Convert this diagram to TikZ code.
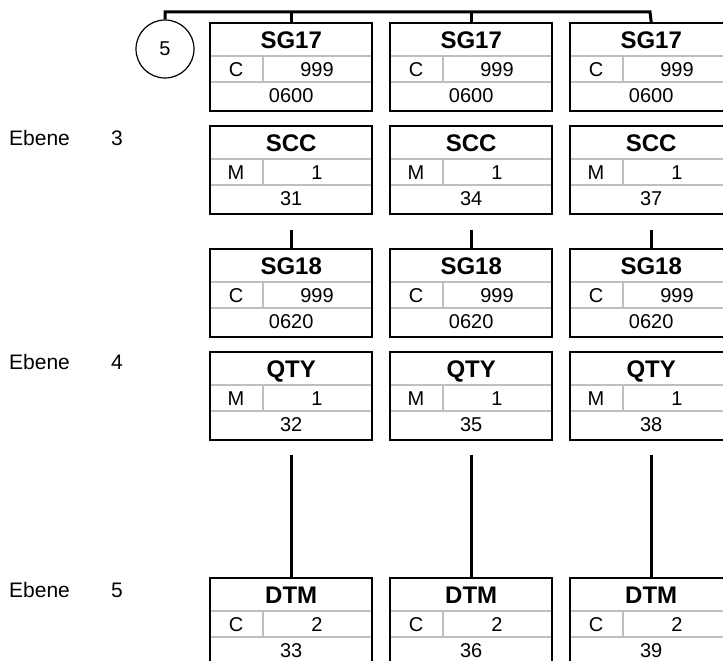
\documentclass[tikz,border=0pt]{standalone}
\usepackage{fontspec}
\setmainfont{Liberation Sans}
\begin{document}
\begin{tikzpicture}[x=1pt,y=-1pt,
  segframe/.style={draw=black,line width=2.4pt,minimum width=162pt,minimum height=88pt,inner sep=0pt,anchor=north west},
  gridline/.style={draw=black!25,line width=2pt},
  conn/.style={draw=black,line width=3pt},
  hdr/.style={font=\bfseries\fontsize{24}{26}\selectfont,text height=17.2pt,text depth=0pt,inner sep=0pt},
  txt/.style={font=\fontsize{20}{22}\selectfont,text height=14.3pt,text depth=0pt,inner sep=0pt},
  lbl/.style={font=\fontsize{21}{23}\selectfont,text height=15pt,text depth=0pt,inner sep=0pt},
  ring/.style={draw=black,line width=1.2pt,circle,minimum size=58pt,inner sep=0pt,font=\fontsize{20}{22}\selectfont}
]
\useasboundingbox (0,0) rectangle (723,661);
\newcommand\segbox[7]{%
  \coordinate (#1-nw) at (#2,#3);
  \draw[gridline] ([yshift=-34pt]#1-nw) -- ++(162pt,0);
  \draw[gridline] ([yshift=-60pt]#1-nw) -- ++(162pt,0);
  \draw[gridline] ([xshift=54pt,yshift=-34pt]#1-nw) -- ++(0,-26pt);
  \node[segframe] (#1) at (#1-nw) {};
  \node[hdr] (#1-t) at ([yshift=-17.5pt]#1.north) {#4};
  \node[txt] (#1-s) at ([xshift=27pt,yshift=-47pt]#1.north west) {#5};
  \node[txt] (#1-r) at ([xshift=108pt,yshift=-47pt]#1.north west) {#6};
  \node[txt] (#1-n) at ([yshift=-73pt]#1.north) {#7};
}
% level labels
\node[lbl,anchor=west] (e3) at (9,137.5) {Ebene};
\node[lbl] (e3n) at (117,137.5) {3};
\node[lbl,anchor=west] (e4) at (9,362) {Ebene};
\node[lbl] (e4n) at (117,362) {4};
\node[lbl,anchor=west] (e5) at (9,590) {Ebene};
\node[lbl] (e5n) at (117,590) {5};
% circle
\node[ring] (c5) at (165,49) {5};
% boxes
\segbox{sg17a}{209}{22}{SG17}{C}{999}{0600}
\segbox{sg17b}{389}{22}{SG17}{C}{999}{0600}
\segbox{sg17c}{569}{22}{SG17}{C}{999}{0600}
\segbox{scca}{209}{125}{SCC}{M}{1}{31}
\segbox{sccb}{389}{125}{SCC}{M}{1}{34}
\segbox{sccc}{569}{125}{SCC}{M}{1}{37}
\segbox{sg18a}{209}{248}{SG18}{C}{999}{0620}
\segbox{sg18b}{389}{248}{SG18}{C}{999}{0620}
\segbox{sg18c}{569}{248}{SG18}{C}{999}{0620}
\segbox{qtya}{209}{351}{QTY}{M}{1}{32}
\segbox{qtyb}{389}{351}{QTY}{M}{1}{35}
\segbox{qtyc}{569}{351}{QTY}{M}{1}{38}
\segbox{dtma}{209}{577}{DTM}{C}{2}{33}
\segbox{dtmb}{389}{577}{DTM}{C}{2}{36}
\segbox{dtmc}{569}{577}{DTM}{C}{2}{39}
% connectors
\coordinate (busL) at (165,12);
\coordinate (busR) at (650,12);
\draw[conn] (c5.north) -- (busL) -- (busR) -- (sg17c.north);
\draw[conn] (sg17a.north) -- (sg17a.north |- busL);
\draw[conn] (sg17b.north) -- (sg17b.north |- busL);
\foreach \c in {a,b,c}{
  \coordinate (stub\c) at ([yshift=18pt]sg18\c.north);
  \draw[conn] (sg18\c.north) -- (stub\c);
  \coordinate (lead\c) at ([yshift=122pt]dtm\c.north);
  \draw[conn] (dtm\c.north) -- (lead\c);
}
\end{tikzpicture}
\end{document}
